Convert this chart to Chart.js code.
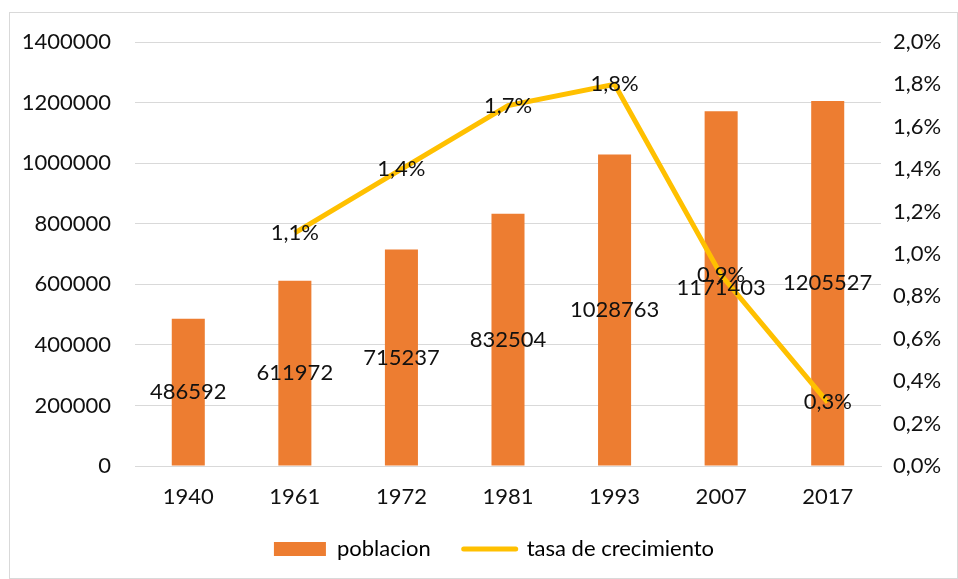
<!DOCTYPE html>
<html lang="es">
<head>
    <meta charset="UTF-8">
    <title>Poblacion y tasa de crecimiento</title>
    <style>
        body { margin: 0; background: #fff; }
        #chart { position: absolute; left: 0; top: 0; }
        /* thin frame round the chart, drawn over the canvas */
        #frame {
            position: absolute;
            left: 9px;
            top: 12px;
            width: 947px;
            height: 565px;
            border: 1px solid #d9d9d9;
            pointer-events: none;
        }
    </style>
    <script src="https://cdn.jsdelivr.net/npm/chart.js"></script>
</head>
<body>
    <canvas id="chart" width="958" height="579"></canvas>
    <div id="frame"></div>

    <script>
        // data
        const years = ['1940', '1961', '1972', '1981', '1993', '2007', '2017'];
        const poblacion = [486592, 611972, 715237, 832504, 1028763, 1171403, 1205527];
        const tasa = [null, 1.1, 1.4, 1.7, 1.8, 0.9, 0.3];   // percent

        const orange = '#ED7D31';
        const yellow = '#FFC000';
        const fontFamily = 'Lato, "Open Sans", sans-serif';
        const fontSize = 22;

        const fmtPct = v => v.toFixed(1).replace('.', ',') + '%';

        // draws the value labels: bars at their middle, line labels on the points
        const valueLabels = {
            id: 'valueLabels',
            afterDatasetsDraw(chart) {
                const ctx = chart.ctx;
                ctx.save();
                ctx.font = fontSize + 'px ' + fontFamily;
                ctx.fillStyle = '#111';
                ctx.textAlign = 'center';
                ctx.textBaseline = 'middle';
                chart.getDatasetMeta(0).data.forEach((bar, i) => {
                    ctx.fillText(String(poblacion[i]), bar.x, (bar.y + bar.base) / 2);
                });
                chart.getDatasetMeta(1).data.forEach((pt, i) => {
                    if (tasa[i] == null) return;
                    ctx.fillText(fmtPct(tasa[i]), pt.x, pt.y);
                });
                ctx.restore();
            }
        };

        // the legend sits a little right of the canvas centre in the original
        // and a bit higher than the padding would put it
        const legendShift = {
            id: 'legendShift',
            afterLayout(chart) {
                chart.legend.left += 15;
                chart.legend.right += 15;
                chart.legend.top -= 6;
                chart.legend.bottom -= 6;
            }
        };

        const ctx = document.getElementById('chart').getContext('2d');
        new Chart(ctx, {
            type: 'bar',
            data: {
                labels: years,
                datasets: [{
                    label: 'poblacion',
                    data: poblacion,
                    backgroundColor: orange,
                    borderWidth: 0,
                    barPercentage: 0.31,
                    categoryPercentage: 1,
                    yAxisID: 'y',
                    order: 2
                }, {
                    type: 'line',
                    label: 'tasa de crecimiento',
                    data: tasa,
                    borderColor: yellow,
                    backgroundColor: yellow,
                    borderWidth: 5,
                    pointRadius: 0,
                    tension: 0,
                    spanGaps: false,
                    yAxisID: 'y1',
                    order: 1
                }]
            },
            options: {
                responsive: false,
                animation: false,
                layout: { padding: { top: 42, bottom: 3, left: 0, right: 0 } },
                plugins: {
                    tooltip: { enabled: false },
                    legend: {
                        position: 'bottom',
                        labels: {
                            usePointStyle: true,
                            pointStyleWidth: 52,
                            boxWidth: 52,
                            boxHeight: 14,
                            padding: 33,
                            color: '#111',
                            font: { family: fontFamily, size: fontSize },
                            generateLabels: () => [
                                { text: 'poblacion', fillStyle: orange, strokeStyle: orange, lineWidth: 0,
                                  pointStyle: 'rect', datasetIndex: 0, hidden: false },
                                { text: 'tasa de crecimiento', fillStyle: yellow, strokeStyle: yellow, lineWidth: 5,
                                  lineCap: 'round', pointStyle: 'line', datasetIndex: 1, hidden: false }
                            ]
                        }
                    }
                },
                scales: {
                    x: {
                        grid: { display: false },
                        border: { display: true, color: '#d9d9d9' },
                        ticks: { color: '#111', padding: 10, font: { family: fontFamily, size: fontSize } },
                        afterFit: s => { s.height = 45; }
                    },
                    y: {
                        position: 'left',
                        min: 0,
                        max: 1400000,
                        ticks: {
                            stepSize: 200000,
                            color: '#111',
                            padding: 24,
                            font: { family: fontFamily, size: fontSize },
                            callback: v => String(v)
                        },
                        grid: { color: '#d9d9d9', drawTicks: false },
                        border: { display: false },
                        afterFit: s => { s.width = 135; }
                    },
                    y1: {
                        position: 'right',
                        min: 0,
                        max: 2,
                        ticks: {
                            stepSize: 0.2,
                            color: '#111',
                            padding: 12,
                            font: { family: fontFamily, size: fontSize },
                            callback: v => fmtPct(v)
                        },
                        grid: { display: false, drawTicks: false },
                        border: { display: false },
                        afterFit: s => { s.width = 77; }
                    }
                }
            },
            plugins: [valueLabels, legendShift]
        });
    </script>
</body>
</html>
